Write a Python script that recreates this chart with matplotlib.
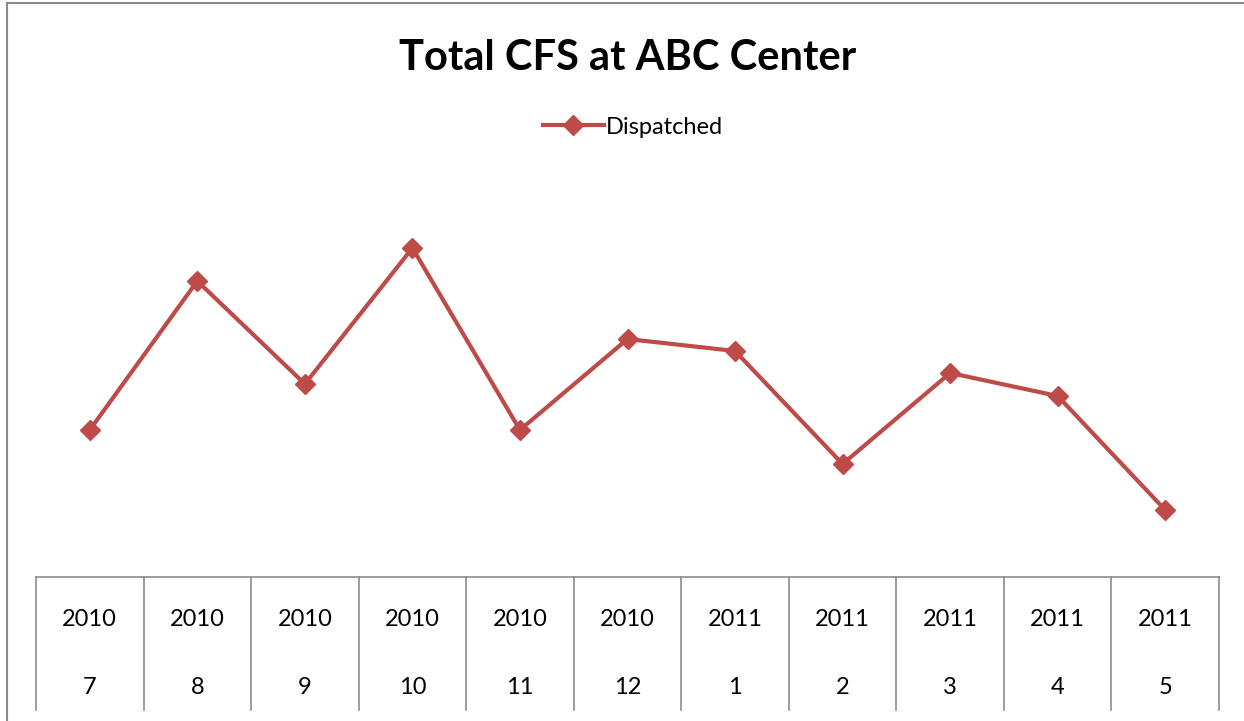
import matplotlib.pyplot as plt
from matplotlib.patches import Rectangle

years = ['2010', '2010', '2010', '2010', '2010', '2010', '2011', '2011', '2011', '2011', '2011']
months = ['7', '8', '9', '10', '11', '12', '1', '2', '3', '4', '5']
dispatched = [1470, 2960, 1930, 3290, 1470, 2380, 2260, 1130, 2040, 1810, 670]

red = '#BE4B48'
plt.rcParams['font.family'] = ['Lato', 'DejaVu Sans']

W, H = 1244, 721
fig = plt.figure(figsize=(W / 100, H / 100), dpi=100)

# rahmen
fig.patches.append(Rectangle((7 / W, -0.1), 1.2, 1 - 3 / H + 0.1, transform=fig.transFigure,
                             fill=False, edgecolor='#8c8c8c', linewidth=1.5))

ax = fig.add_axes([36 / W, 1 - 577 / H, (1219 - 36) / W, (577 - 150) / H])
x = list(range(len(dispatched)))
ax.plot(x, dispatched, color=red, linewidth=3, marker='D', markersize=10,
        label='Dispatched', zorder=3)
ax.set_xlim(-0.5, len(dispatched) - 0.5)
ax.set_ylim(0, 4270)
ax.axis('off')

fig.text(628 / W, 1 - 58 / H, 'Total CFS at ABC Center', ha='center', va='center',
         fontsize=30, fontweight='bold')
ax.legend(loc='center', bbox_to_anchor=(633 / W, 1 - 127 / H), bbox_transform=fig.transFigure,
          frameon=False, fontsize=17, handlelength=2.6, handletextpad=0.1)

# tabelle unten
ax.plot([-0.5, len(dispatched) - 0.5], [0, 0], color='#8c8c8c', linewidth=1.2, clip_on=False)
bottom = -(710 - 577) * 10
for i in range(len(dispatched) + 1):
    ax.plot([i - 0.5, i - 0.5], [0, bottom], color='#8c8c8c', linewidth=1.2, clip_on=False)
for i in x:
    ax.text(i, -(620 - 577) * 10, years[i], ha='center', va='center', fontsize=17)
    ax.text(i, -(687 - 577) * 10, months[i], ha='center', va='center', fontsize=17)

plt.savefig('out.png', dpi=100)
